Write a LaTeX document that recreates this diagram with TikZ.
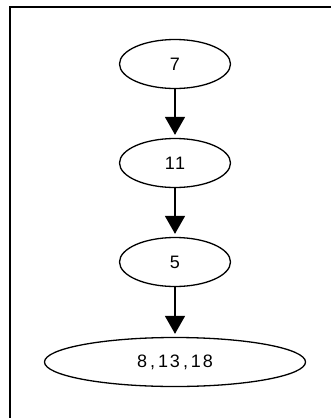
\documentclass[tikz,border=0pt]{standalone}
\usepackage{fontspec}
\setmainfont{Liberation Sans}[LetterSpace=10]
\usetikzlibrary{arrows.meta,shapes.geometric}
\begin{document}
\begin{tikzpicture}[x=1pt,y=-1pt,
  oval/.style={draw, ellipse, line width=1.3pt, minimum width=111pt, minimum height=49pt, inner sep=0pt, font=\fontsize{18}{18}\selectfont},
  link/.style={line width=1.5pt, -{Triangle[width=20pt,length=18pt]}, shorten >=3pt}]
\useasboundingbox (0,0) rectangle (331,418);
\draw[line width=1.8pt] (331,7) -- (10,7) -- (10,418);
\node[oval] (a) at (175,64) {7};
\node[oval] (b) at (175,163) {11};
\node[oval] (c) at (175,262) {5};
\node[oval, minimum width=261pt] (d) at (175,362) {8\,,\,13\,,\,18};
\draw[link] (a) -- (b);
\draw[link] (b) -- (c);
\draw[link] (c) -- (d);
\end{tikzpicture}
\end{document}
